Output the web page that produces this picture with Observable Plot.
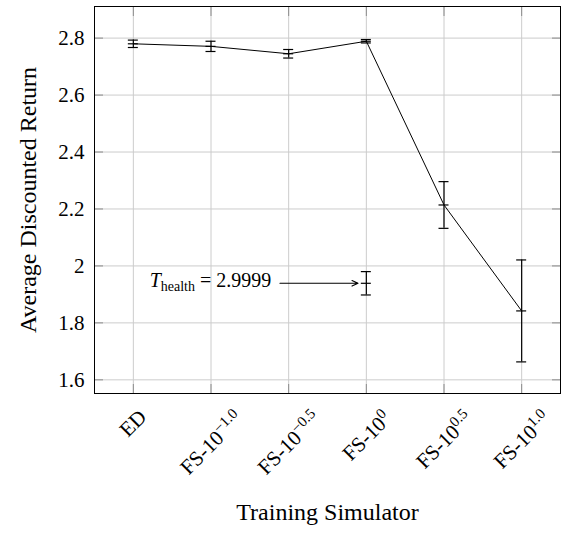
<!DOCTYPE html>
<html><head><meta charset="utf-8">
<script src="https://cdn.jsdelivr.net/npm/d3@7"></script>
<script src="https://cdn.jsdelivr.net/npm/@observablehq/plot@0.6"></script>
<style>html,body{margin:0;padding:0;background:#fff}svg{display:block}</style>
</head><body><div id="chart"></div>
<script>
// ---- data ----
const simulators = ["ED", "FS-10^-1.0", "FS-10^-0.5", "FS-10^0", "FS-10^0.5", "FS-10^1.0"];
const tickBase = ["ED", "FS-10", "FS-10", "FS-10", "FS-10", "FS-10"];
const tickExp = ["", "−1.0", "−0.5", "0", "0.5", "1.0"];
const means = [2.780, 2.771, 2.745, 2.789, 2.214, 1.842];
const errors = [0.013, 0.018, 0.015, 0.006, 0.082, 0.179];
const healthIndex = [3];
const healthMean = [1.939];
const healthError = [0.041];
const yTicks = [1.6, 1.8, 2.0, 2.2, 2.4, 2.6, 2.8];
const annotationLabel = ["T", "health", " = 2.9999"];
const annotationTextEnd = [1.776];
const arrowStart = [1.888];
const arrowEnd = [2.893];

// ---- build tables ----
const idx = simulators.map((_, i) => i);
const main = idx.map(i => ({i, m: means[i], lo: means[i] - errors[i], hi: means[i] + errors[i]}));
const health = healthIndex.map((i, k) => ({i, m: healthMean[k], lo: healthMean[k] - healthError[k], hi: healthMean[k] + healthError[k]}));
const allBars = main.concat(health);
const capRows = allBars.flatMap(d => [{i: d.i, v: d.lo}, {i: d.i, v: d.m}, {i: d.i, v: d.hi}]);
const annot = annotationTextEnd.map((x, k) => ({x, y: healthMean[k], x1: arrowStart[k], x2: arrowEnd[k]}));

const serif = "Liberation Serif";
const tickGray = "#8c8c8c";
const FS = 21, ES = 15, ER = 8;

const svg = Plot.plot({
  width: 561, height: 533,
  marginLeft: 94, marginRight: 1, marginTop: 6, marginBottom: 140,
  style: {fontFamily: serif, fontSize: "21px", color: "black", background: "white", overflow: "visible"},
  x: {type: "linear", domain: [-0.5, 5.5], axis: null},
  y: {domain: [1.552, 2.911], axis: null},
  marks: [
    Plot.gridX(idx, {stroke: "#cccccc", strokeOpacity: 1}),
    Plot.gridY(yTicks, {stroke: "#cccccc", strokeOpacity: 1}),
    Plot.axisX(idx, {anchor: "bottom", tickSize: -9, stroke: tickGray, text: null}),
    Plot.axisX(idx, {anchor: "top", tickSize: -9, stroke: tickGray, text: null}),
    Plot.axisY(yTicks, {anchor: "left", tickSize: -9, stroke: tickGray, text: null}),
    Plot.axisY(yTicks, {anchor: "right", tickSize: -9, stroke: tickGray, text: null}),
    Plot.axisX(idx, {anchor: "bottom", tickSize: 0, tickPadding: 20, fontSize: FS, fill: "black",
      tickRotate: -45, tickFormat: i => tickBase[i] + tickExp[i]}),
    Plot.axisY(yTicks, {anchor: "left", tickSize: 0, tickPadding: 10, fontSize: FS, fill: "black",
      tickFormat: d => String(+d.toFixed(1))}),
    Plot.frame({stroke: "black", strokeWidth: 1}),
    Plot.line(main, {x: "i", y: "m", stroke: "black", strokeWidth: 1}),
    Plot.ruleX(allBars, {x: "i", y1: "lo", y2: "hi", stroke: "black", strokeWidth: 1.2}),
    Plot.ruleY(capRows, {y: "v", x1: "i", x2: "i", insetLeft: -5, insetRight: -5, stroke: "black", strokeWidth: 1.2}),
    Plot.arrow(annot, {x1: "x1", x2: "x2", y1: "y", y2: "y", stroke: "black", strokeWidth: 1.1, headLength: 9, headAngle: 50, bend: 0}),
    Plot.text(annot, {x: "x", y: "y", text: () => annotationLabel.join(""), textAnchor: "end", fontSize: 20, lineAnchor: "bottom", dy: 4}),
    Plot.text(["Average Discounted Return"], {frameAnchor: "left", textAnchor: "middle", dx: -66, rotate: -90, fontSize: 24}),
    Plot.text(["Training Simulator"], {frameAnchor: "bottom", textAnchor: "middle", dy: 126, fontSize: 24})
  ]
});
document.getElementById("chart").append(svg);

const touchFonts = () => svg.querySelectorAll("text").forEach(t => {
  t.setAttribute("font-family", serif);
  getComputedStyle(t).fontFamily;
  t.getComputedTextLength();
});
touchFonts();

// drop the empty texts left by the tick-only axes
svg.querySelectorAll("text").forEach(t => { if (!t.textContent) t.remove(); });

const NS = "http://www.w3.org/2000/svg";
const ctx = document.createElement("canvas").getContext("2d");
const tw = (s, px) => { ctx.font = `${px}px 'Liberation Serif'`; return ctx.measureText(s).width; };

// ---- x tick labels: superscripts, rotated and centred under each tick ----
const xs = svg.scale("x"), ys = svg.scale("y");
const labelTop = ys.apply(ys.domain[0]) + 12;
svg.querySelectorAll('[aria-label="x-axis tick label"] text').forEach((t, k) => {
  const i = idx[k];
  t.textContent = "";
  t.removeAttribute("y");
  t.setAttribute("dy", "0");
  t.setAttribute("text-anchor", "start");
  const a = document.createElementNS(NS, "tspan");
  a.textContent = tickBase[i];
  t.append(a);
  let W = tw(tickBase[i], FS), top = -0.891 * FS;
  if (tickExp[i]) {
    const b = document.createElementNS(NS, "tspan");
    b.setAttribute("font-size", ES);
    b.setAttribute("dy", -ER);
    b.textContent = tickExp[i];
    t.append(b);
    W += tw(tickExp[i], ES);
    top = Math.min(top, -ER - 0.891 * ES);
  }
  const bottom = 0.216 * FS;
  const cx = W / 2, cy = (top + bottom) / 2;
  const ext = (W + bottom - top) * Math.SQRT1_2;
  t.parentNode.removeAttribute("transform");
  t.setAttribute("transform", `translate(${xs.apply(i)},${labelTop + ext / 2}) rotate(-45) translate(${-cx},${-cy})`);
});

// ---- annotation: T_health ----
svg.querySelectorAll('[aria-label="text"] text').forEach(t => {
  if (t.textContent !== annotationLabel.join("")) return;
  t.textContent = "";
  const a = document.createElementNS(NS, "tspan");
  a.setAttribute("font-style", "italic");
  a.textContent = annotationLabel[0];
  const b = document.createElementNS(NS, "tspan");
  b.setAttribute("font-size", "14");
  b.setAttribute("dy", "4");
  b.textContent = annotationLabel[1];
  const c = document.createElementNS(NS, "tspan");
  c.setAttribute("dy", "-4");
  c.textContent = annotationLabel[2];
  t.append(a, b, c);
});
touchFonts();
</script>
</body></html>
